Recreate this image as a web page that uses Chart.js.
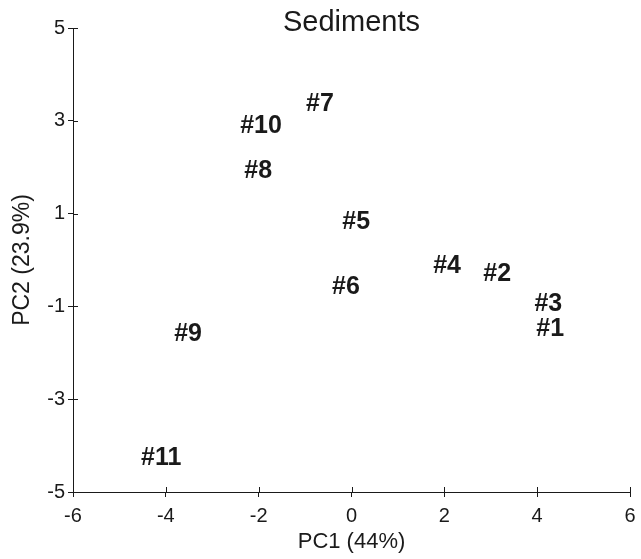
<!DOCTYPE html>
<html>
<head>
<meta charset="utf-8">
<script src="https://cdn.jsdelivr.net/npm/chart.js@4/dist/chart.umd.min.js"></script>
<style>
  html, body { margin: 0; padding: 0; background: #ffffff; }
  #wrap { width: 641px; height: 559px; }
</style>
</head>
<body>
<div id="wrap"><canvas id="chart"></canvas></div>
<script>
// Sample labels and PCA scores
const sampleLabels = ['#1', '#2', '#3', '#4', '#5', '#6', '#7', '#8', '#9', '#10', '#11'];
const pc1Values = [4.28, 3.14, 4.24, 2.06, 0.10, -0.12, -0.68, -2.01, -3.52, -1.95, -4.10];
const pc2Values = [-1.50, -0.30, -0.94, -0.14, 0.82, -0.59, 3.35, 1.92, -1.60, 2.88, -4.28];

const xTicks = [-6, -4, -2, 0, 2, 4, 6];
const yTicks = [-5, -3, -1, 1, 3, 5];

const ink = '#1a1a1a';
const fontFamily = '"Liberation Sans", Arial, Helvetica, sans-serif';

const points = pc1Values.map((x, i) => ({ x: x, y: pc2Values[i] }));

// Draw sample names at each point position
const pointLabels = {
    id: 'pointLabels',
    afterDatasetsDraw(chart) {
        const ctx = chart.ctx;
        const meta = chart.getDatasetMeta(0);
        ctx.save();
        ctx.fillStyle = ink;
        ctx.font = 'bold 25px ' + fontFamily;
        ctx.textAlign = 'center';
        ctx.textBaseline = 'middle';
        meta.data.forEach((el, i) => {
            ctx.fillText(sampleLabels[i], el.x, el.y);
        });
        ctx.restore();
    }
};

// Ticks crossing the axis lines, plus the title
const crossTicks = {
    id: 'crossTicks',
    afterDraw(chart) {
        const ctx = chart.ctx;
        const xs = chart.scales.x;
        const ys = chart.scales.y;
        const area = chart.chartArea;
        ctx.save();
        ctx.strokeStyle = ink;
        ctx.lineWidth = 1;
        ctx.beginPath();
        xTicks.forEach(v => {
            const px = Math.round(xs.getPixelForValue(v)) + 0.5;
            ctx.moveTo(px, area.bottom - 5);
            ctx.lineTo(px, area.bottom);
        });
        yTicks.forEach(v => {
            const py = Math.round(ys.getPixelForValue(v)) + 0.5;
            ctx.moveTo(area.left, py);
            ctx.lineTo(area.left + 5, py);
        });
        ctx.stroke();

        ctx.fillStyle = ink;
        ctx.font = '29px ' + fontFamily;
        ctx.textAlign = 'center';
        ctx.textBaseline = 'alphabetic';
        ctx.fillText('Sediments', (area.left + area.right) / 2, 31);
        ctx.restore();
    }
};

const config = {
    type: 'scatter',
    data: {
        datasets: [{
            label: 'Sediments',
            data: points,
            pointRadius: 0,
            pointHoverRadius: 0
        }]
    },
    options: {
        responsive: true,
        maintainAspectRatio: false,
        animation: false,
        layout: {
            padding: { top: 28, right: 11, left: 0, bottom: 0 }
        },
        plugins: {
            legend: { display: false },
            title: { display: false },
            tooltip: { enabled: false }
        },
        scales: {
            x: {
                type: 'linear',
                min: -6,
                max: 6,
                afterBuildTicks: scale => {
                    scale.ticks = xTicks.map(v => ({ value: v }));
                },
                afterFit: scale => {
                    scale.height = 67;
                    scale.paddingLeft = 0;
                    scale.paddingRight = 0;
                },
                border: { display: true, color: ink, width: 1 },
                grid: {
                    drawOnChartArea: false,
                    drawTicks: true,
                    tickLength: 5,
                    color: ink
                },
                ticks: {
                    color: ink,
                    padding: 7,
                    maxRotation: 0,
                    font: { family: fontFamily, size: 20 }
                },
                title: {
                    display: true,
                    text: 'PC1 (44%)',
                    color: ink,
                    padding: { top: 2, bottom: 4 },
                    font: { family: fontFamily, size: 22 }
                }
            },
            y: {
                type: 'linear',
                min: -5,
                max: 5,
                afterBuildTicks: scale => {
                    scale.ticks = yTicks.map(v => ({ value: v }));
                },
                afterFit: scale => {
                    scale.width = 73;
                },
                border: { display: true, color: ink, width: 1 },
                grid: {
                    drawOnChartArea: false,
                    drawTicks: true,
                    tickLength: 5,
                    color: ink
                },
                ticks: {
                    color: ink,
                    padding: 3,
                    font: { family: fontFamily, size: 20 }
                },
                title: {
                    display: true,
                    text: 'PC2 (23.9%)',
                    color: ink,
                    padding: { top: 9, bottom: 0 },
                    font: { family: fontFamily, size: 23 }
                }
            }
        }
    },
    plugins: [pointLabels, crossTicks]
};

new Chart(document.getElementById('chart'), config);
</script>
</body>
</html>
